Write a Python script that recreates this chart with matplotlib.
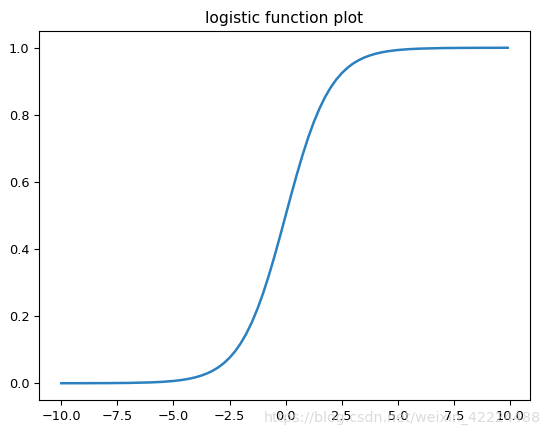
import matplotlib
matplotlib.use("Agg")
import matplotlib.pyplot as plt

# values
x_vals = [-10, -9, -8, -7, -6, -5.5, -5, -4.75, -4.5, -4.25, -4, -3.75, -3.5, -3.25,
          -3, -2.75, -2.5, -2.25, -2, -1.75, -1.5, -1.25, -1, -0.75, -0.5, -0.25,
          0, 0.25, 0.5, 0.75, 1, 1.25, 1.5, 1.75, 2, 2.25, 2.5, 2.75, 3, 3.25,
          3.5, 3.75, 4, 4.25, 4.5, 4.75, 5, 5.5, 6, 7, 8, 9, 9.9]
y_vals = [0.0, 0.0001, 0.0003, 0.0009, 0.0025, 0.0041, 0.0067, 0.0086, 0.0110, 0.0141,
          0.0180, 0.0230, 0.0293, 0.0373, 0.0474, 0.0601, 0.0759, 0.0953, 0.1192,
          0.1480, 0.1824, 0.2227, 0.2689, 0.3208, 0.3775, 0.4378,
          0.5, 0.5622, 0.6225, 0.6792, 0.7311, 0.7773, 0.8176, 0.8520, 0.8808,
          0.9047, 0.9241, 0.9399, 0.9526, 0.9627, 0.9707, 0.9770, 0.9820, 0.9859,
          0.9890, 0.9914, 0.9933, 0.9959, 0.9975, 0.9991, 0.9997, 0.9999, 1.0]
title = "logistic function plot"
watermark = "https://blog.csdn.net/weixin_42224488"

fig = plt.figure(figsize=(5.53, 4.33), dpi=100)
ax = fig.add_axes([39/553, 33/433, (530-39)/553, (402-33)/433])
ax.plot(x_vals, y_vals, color="#2b80bf", linewidth=1.8)
ax.set_xticks([-10, -7.5, -5, -2.5, 0, 2.5, 5, 7.5, 10])
ax.set_yticks([0, 0.2, 0.4, 0.6, 0.8, 1.0])
ax.tick_params(labelsize=9.3)
ax.set_title(title, fontsize=11.2)
fig.text(541/553, 1 - 418/433, watermark, color="#cccccc", fontsize=10.3,
         ha="right", va="center", alpha=0.7)
fig.savefig("out.png", dpi=100)
